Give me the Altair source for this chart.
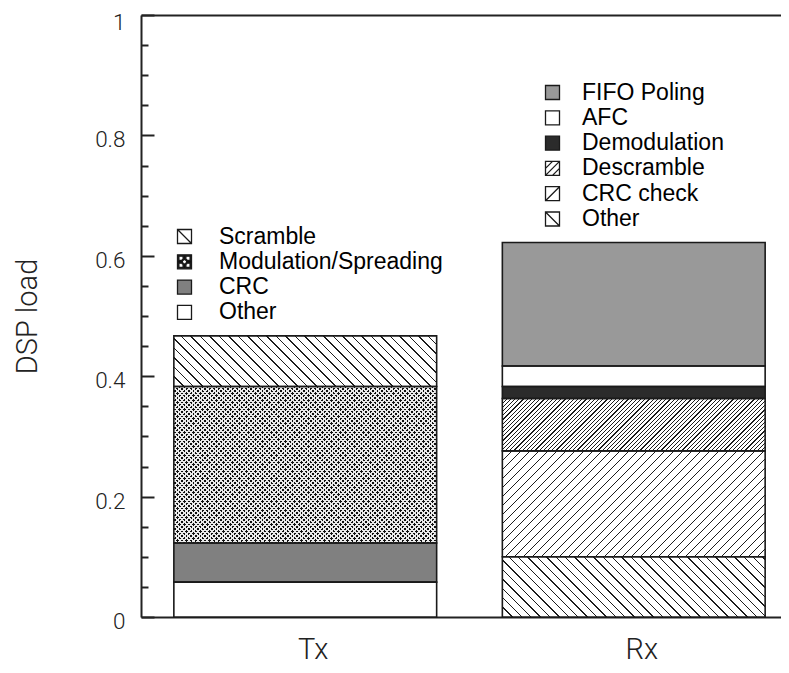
import altair as alt
import pandas as pd

# ---------------- data ----------------
groups = ["Tx", "Rx"]
tx_items = ["Other", "CRC", "Modulation/Spreading", "Scramble"]          # bottom -> top
tx_values = [0.058, 0.065, 0.260, 0.084]
rx_items = ["Other", "CRC check", "Descramble", "Demodulation", "AFC", "FIFO Poling"]
rx_values = [0.100, 0.176, 0.087, 0.020, 0.034, 0.205]

tx_legend = ["Scramble", "Modulation/Spreading", "CRC", "Other"]
rx_legend = ["FIFO Poling", "AFC", "Demodulation", "Descramble", "CRC check", "Other"]

major_ticks = [0, 0.2, 0.4, 0.6, 0.8, 1]
minor_ticks = [0.05, 0.1, 0.15, 0.25, 0.3, 0.35, 0.45, 0.5, 0.55,
               0.65, 0.7, 0.75, 0.85, 0.9, 0.95]

rows = []
for g, items, vals in [("Tx", tx_items, tx_values), ("Rx", rx_items, rx_values)]:
    acc = 0.0
    for it, v in zip(items, vals):
        rows.append({"group": g, "item": it, "key": g + "|" + it,
                     "y0": acc, "y1": acc + v, "h": v})
        acc += v
df = pd.DataFrame(rows)

# ---------------- styling ----------------
VIEW_W, PLOT_H = 640, 602          # drawn area (page is only 789 px wide)
RANGE_W = 657                      # full x extent of the original frame
P_INNER, P_OUTER = 0.2, 0.1
BAND = RANGE_W / (2 - P_INNER + 2 * P_OUTER) * (1 - P_INNER)
INK = "#1c1c1c"
CLEAR = "rgba(255,255,255,0)"
AX = "#222222"


def stripe_gradient(h_px, direction, spacing, lw, ink, paper):
    W = BAND
    H = max(h_px, 1.0)
    L = W + H
    a = W * L / (W * W + H * H)
    if direction == "/":
        x1, y1, x2, y2 = 0, 0, a, a * H / W
    else:
        x1, y1, x2, y2 = 0, 1, a, 1 - a * H / W
    stops = []
    k = 0
    while k * spacing <= L:
        o0 = k * spacing / L
        o1 = min((k * spacing + lw) / L, 1.0)
        o2 = min((k + 1) * spacing / L, 1.0)
        stops += [(ink, o0), (ink, o1), (paper, o1), (paper, o2)]
        k += 1
    return alt.LinearGradient(
        gradient="linear",
        stops=[alt.GradientStop(color=c, offset=round(o, 5)) for c, o in stops],
        x1=x1, y1=y1, x2=x2, y2=y2)


styles = {
    "Tx|Other": [("solid", "white")],
    "Tx|CRC": [("solid", "#808080")],
    "Tx|Modulation/Spreading": [("solid", "#111111"),
                                ("stripe", "/", 4.6, 2.6, CLEAR, "#ececec"),
                                ("stripe", "\\", 4.6, 2.6, CLEAR, "#ececec")],
    "Tx|Scramble": [("stripe", "\\", 9.5, 1.4, INK, "white")],
    "Rx|Other": [("stripe", "\\", 9.4, 1.4, INK, "white")],
    "Rx|CRC check": [("stripe", "/", 9.0, 1.3, INK, "white")],
    "Rx|Descramble": [("stripe", "/", 4.2, 1.2, INK, "white")],
    "Rx|Demodulation": [("solid", "#2b2b2b")],
    "Rx|AFC": [("solid", "white")],
    "Rx|FIFO Poling": [("solid", "#999999")],
}

yscale = alt.Scale(domain=[0, 1], nice=False, zero=True)
xscale = alt.Scale(domain=groups, range=[0, RANGE_W], paddingInner=P_INNER, paddingOuter=P_OUTER)

x_axes = [
    alt.Axis(orient="bottom", title=None, domain=True, domainColor=AX, domainWidth=2,
             ticks=False, tickSize=0, labelAngle=0, labelFont="Roboto", labelFontWeight=300,
             labelFontSize=29, labelColor=AX, labelBaseline="alphabetic",
             labelPadding=41, labelOffset=8),
    alt.Axis(orient="top", title=None, domain=True, domainColor=AX, domainWidth=2,
             ticks=False, labels=False),
]

y_axes = [
    alt.Axis(orient="left", values=major_ticks, format=".1~f", offset=-13, domain=False,
             tickSize=13, tickWidth=2, tickColor=AX, grid=False,
             labelFont="Roboto", labelFontWeight=300, labelFontSize=22.5,
             labelColor=AX, labelPadding=16,
             labelOffset={"condition": {"test": "datum.value == 1", "value": 7}, "value": 4.5},
             title="DSP load", titleFont="Roboto", titleFontWeight=300,
             titleFontSize=29, titleColor=AX, titlePadding=52),
    alt.Axis(orient="left", values=minor_ticks, offset=-7, domain=False, tickSize=7,
             tickWidth=2, tickColor=AX, labels=False, title=None, grid=False),
    alt.Axis(orient="left", domain=True, domainColor=AX, domainWidth=2, ticks=False,
             labels=False, title=None, grid=False),
]

base = alt.Chart(df)
layers = []
i = 0
for key, parts in styles.items():
    h_px = float(df.loc[df.key == key, "h"].iloc[0]) * PLOT_H
    for part in parts:
        if part[0] == "solid":
            fill = part[1]
        else:
            _, d, sp, lw, ink, paper = part
            fill = stripe_gradient(h_px, d, sp, lw, ink, paper)
        yax = y_axes[i] if i < len(y_axes) else None
        xax = x_axes[i] if i < len(x_axes) else None
        i += 1
        layers.append(
            base.transform_filter(alt.datum.key == key)
            .mark_bar(color=fill, strokeWidth=0)
            .encode(
                x=alt.X("group:N", scale=xscale, axis=xax, sort=groups),
                y=alt.Y("y0:Q", scale=yscale, axis=yax),
                y2="y1:Q",
            )
        )

outline = base.mark_bar(fillOpacity=0, stroke="#1a1a1a", strokeWidth=1.6).encode(
    x=alt.X("group:N", scale=xscale, axis=None, sort=groups),
    y=alt.Y("y0:Q", scale=yscale, axis=None),
    y2="y1:Q",
)
layers.append(outline)

# ---------------- legends ----------------
SQ = "M-1,-1H1V1H-1Z"
BACK = SQ + "M-1,-1L1,1"
FWD = SQ + "M-1,1L1,-1"
DENSE = SQ + "M-1,0L0,-1M-1,1L1,-1M0,1L1,0"


def hole(cx, cy, r):
    return "M%g,%gV%gH%gV%gZ" % (cx - r, cy - r, cy + r, cx + r, cy - r)


DOTS = SQ + "".join(hole(cx, cy, 0.3) for cx, cy in
                    [(-0.5, -0.5), (0.5, -0.5), (0, 0), (-0.5, 0.5), (0.5, 0.5)])

tx_leg_colors = ["white", "#111111", "#808080", "white"]
tx_leg_shapes = [BACK, DOTS, SQ, SQ]
rx_leg_colors = ["#999999", "white", "#2b2b2b", "white", "white", "white"]
rx_leg_shapes = [SQ, SQ, SQ, DENSE, FWD, BACK]


def legend(x, y, offset, row_pad):
    return alt.Legend(title=None, orient="none", legendX=x, legendY=y, padding=0,
                      symbolSize=196, symbolStrokeColor="#1a1a1a", symbolStrokeWidth=1.3,
                      symbolOpacity=1, labelFont="Liberation Sans", labelFontSize=23,
                      labelColor="black", labelOffset=offset, rowPadding=row_pad,
                      labelLimit=400)


def legend_layer(field, order, colors, shapes, lg):
    return alt.Chart(pd.DataFrame({field: order})).mark_point(
        filled=True, opacity=0, strokeWidth=1.3).encode(
        fill=alt.Fill(field + ":N", scale=alt.Scale(domain=order, range=colors), legend=lg),
        stroke=alt.Stroke(field + ":N",
                          scale=alt.Scale(domain=order, range=["#1a1a1a"] * len(order)),
                          legend=lg),
        shape=alt.Shape(field + ":N", scale=alt.Scale(domain=order, range=shapes), legend=lg),
    )


txL = legend(32, 210, 23, 1.3)
rxL = legend(400, 66, 18, 1.3)
layers += [legend_layer("tx_item", tx_legend, tx_leg_colors, tx_leg_shapes, txL),
           legend_layer("rx_item", rx_legend, rx_leg_colors, rx_leg_shapes, rxL)]

chart = (
    alt.layer(*layers)
    .resolve_axis(y="independent", x="independent")
    .resolve_scale(fill="independent", stroke="independent", shape="independent")
    .properties(width=VIEW_W, height=PLOT_H, background="white",
                autosize=alt.AutoSizeParams(type="none"),
                padding={"left": 133, "top": 7, "right": 0, "bottom": 48})
    .configure_view(stroke=None)
)

chart.save("out.html", embed_options={"renderer": "svg", "actions": False})
